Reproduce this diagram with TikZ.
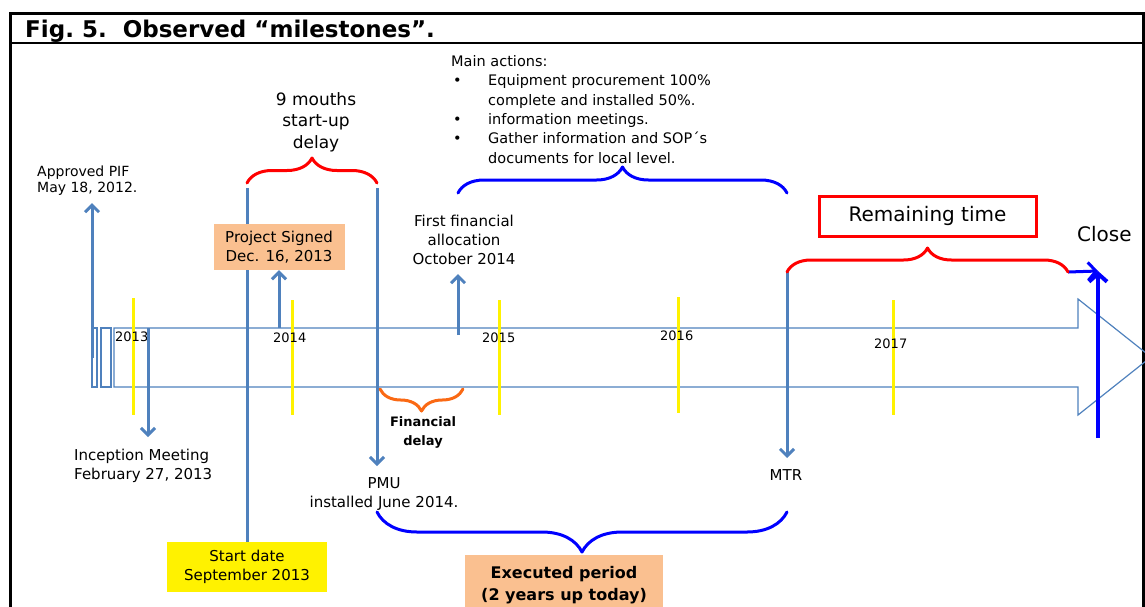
\documentclass[tikz,border=0pt]{standalone}
\usepackage{fontspec}
\setmainfont{DejaVu Sans}
\usetikzlibrary{arrows.meta,decorations.pathreplacing}
\definecolor{steel}{RGB}{79,129,189}
\definecolor{peach}{RGB}{250,192,144}
\definecolor{bracorange}{RGB}{250,105,20}

\tikzset{
    lbl/.style={font=\fontsize{15}{19}\selectfont, align=center, inner sep=0pt},
    yearlbl/.style={font=\fontsize{13}{15}\selectfont, anchor=base west, inner sep=0pt},
    milearrow/.style={draw=steel, line width=3pt, -{Straight Barb[length=7pt,width=14pt]}},
    mileline/.style={draw=steel, line width=3pt},
    closearrow/.style={draw=blue, line width=4pt, -{Straight Barb[length=8pt,width=18pt]}},
    yeartick/.style={draw=yellow, line width=3pt},
    bracebig/.style={decorate, decoration={brace, amplitude=#1}, line width=3pt, line cap=round, line join=round},
}

\begin{document}
\begin{tikzpicture}[x=1pt,y=-1pt]
    \useasboundingbox (0,0) rectangle (1145,606);

    % Frame and title
    \draw[line width=3pt] (10,620) -- (10,13) -- (1143,13) -- (1143,620);
    \draw[line width=2pt] (10,43) -- (1143,43);
    \node[anchor=base west, inner sep=0pt, font=\fontsize{23}{26}\selectfont\bfseries] (title) at (25,37) {Fig.~5.\ \ Observed “milestones”.};

    % Timeline arrow
    \draw[steel, line width=1.2pt] (114,328) -- (1078,328) -- (1078,299) -- (1151,357) -- (1078,415) -- (1078,387) -- (114,387) -- cycle;
    \draw[steel, line width=1.2pt] (92,328) rectangle (97,387);
    \draw[steel, line width=1.2pt] (101,328) rectangle (111,387);

    % Year ticks and labels
    \foreach \xx/\ya/\yb in {133/298/415, 292/300/415, 499/300/415, 678/297/413, 893/300/415}
        \draw[yeartick] (\xx,\ya) -- (\xx,\yb);
    \foreach \xx/\yy/\yr in {115/341/2013, 273/342/2014, 482/342/2015, 660/340/2016, 874/348/2017}
        \node[yearlbl] (y\yr) at (\xx,\yy) {\yr};

    % Milestone points
    \coordinate (pifbase)   at (92,358);
    \coordinate (piftip)    at (92,203);
    \coordinate (incbase)   at (148,328);
    \coordinate (inctip)    at (148,437);
    \coordinate (signbase)  at (279,328);
    \coordinate (allocbase) at (458,335);
    \coordinate (alloctip)  at (458,274);
    \coordinate (pmutip)    at (377,466);
    \coordinate (mtrtip)    at (787,458);
    \coordinate (closebase) at (1098,438);
    \coordinate (closetip)  at (1098,271);

    % Brace end points
    \coordinate (delayL) at (247,183);
    \coordinate (delayR) at (377,183);
    \coordinate (actL)   at (458,193);
    \coordinate (actR)   at (787,193);
    \coordinate (remL)   at (787,272);
    \coordinate (remR)   at (1068,272);
    \coordinate (finL)   at (380,389);
    \coordinate (finR)   at (463,389);
    \coordinate (exeL)   at (377,512);
    \coordinate (exeR)   at (787,512);

    % Labels
    \node[lbl, anchor=west, align=left, font=\fontsize{14}{16}\selectfont] (pif) at (37,181) {Approved PIF\\May 18, 2012.};
    \node[lbl, anchor=west, align=left] (incep) at (74,466) {Inception Meeting\\February 27, 2013};
    \node[lbl] (alloc) at (464,240) {First financial\\allocation\\October 2014};
    \node[lbl, font=\fontsize{17}{21.5}\selectfont] (startup) at (316,122) {9 mouths\\start-up\\delay};
    \node[lbl] (pmu) at (384,494) {PMU\\installed June 2014.};
    \node[lbl] (mtr) at (786,475) {MTR};
    \node[lbl, font=\fontsize{13}{19}\selectfont\bfseries] (findelay) at (423,432) {Financial\\delay};
    \node[lbl, fill=yellow, minimum width=160pt, minimum height=50pt] (start) at (247,567) {Start date\\September 2013};
    \node[lbl, fill=peach, minimum width=198pt, minimum height=60pt, font=\fontsize{16}{22}\selectfont\bfseries] (executed) at (564,585) {Executed period\\(2 years up today)};
    \node[lbl, draw=red, line width=3pt, minimum width=217pt, minimum height=40pt, font=\fontsize{20}{24}\selectfont] (remain) at (927.5,216) {Remaining time};
    \node[lbl, anchor=west, font=\fontsize{20}{24}\selectfont] (close) at (1077,234) {Close};
    \node[lbl, anchor=north west, align=left, font=\fontsize{14.5}{19.4}\selectfont] (actions) at (451,55) {Main actions:\\
        \hspace*{2pt}\makebox[35pt][l]{\textbullet}Equipment procurement 100\%\\
        \hspace*{37pt}complete and installed 50\%.\\
        \hspace*{2pt}\makebox[35pt][l]{\textbullet}information meetings.\\
        \hspace*{2pt}\makebox[35pt][l]{\textbullet}Gather information and SOP´s\\
        \hspace*{37pt}documents for local level.};

    % Milestone arrows
    \draw[milearrow] (pifbase) -- (piftip);
    \draw[milearrow] (incbase) -- (inctip);
    \draw[mileline, shorten <=5pt] (delayL) -- (start.north);
    \draw[milearrow, shorten <=5pt] (delayR) -- (pmutip);
    \draw[milearrow] (allocbase) -- (alloctip);
    \draw[milearrow] (remL) -- (mtrtip);
    \draw[closearrow] (closebase) -- (closetip);
    \draw[closearrow, line width=3pt] (remR) -- (closetip);

    % Project signed box sits over the start line
    \node[lbl, fill=peach, minimum width=131pt, minimum height=46pt] (signed) at (279,247) {Project Signed\\Dec. 16, 2013};
    \draw[milearrow] (signbase) -- (signed.south);

    % Braces
    \draw[bracebig=25pt, red] (delayL) -- (delayR);
    \draw[bracebig=26pt, blue] (actL) -- (actR);
    \draw[bracebig=24pt, red] (remL) -- (remR);
    \draw[bracebig=22pt, bracorange] (finR) -- (finL);
    \draw[bracebig=40pt, blue] (exeR) -- (exeL);
\end{tikzpicture}
\end{document}
